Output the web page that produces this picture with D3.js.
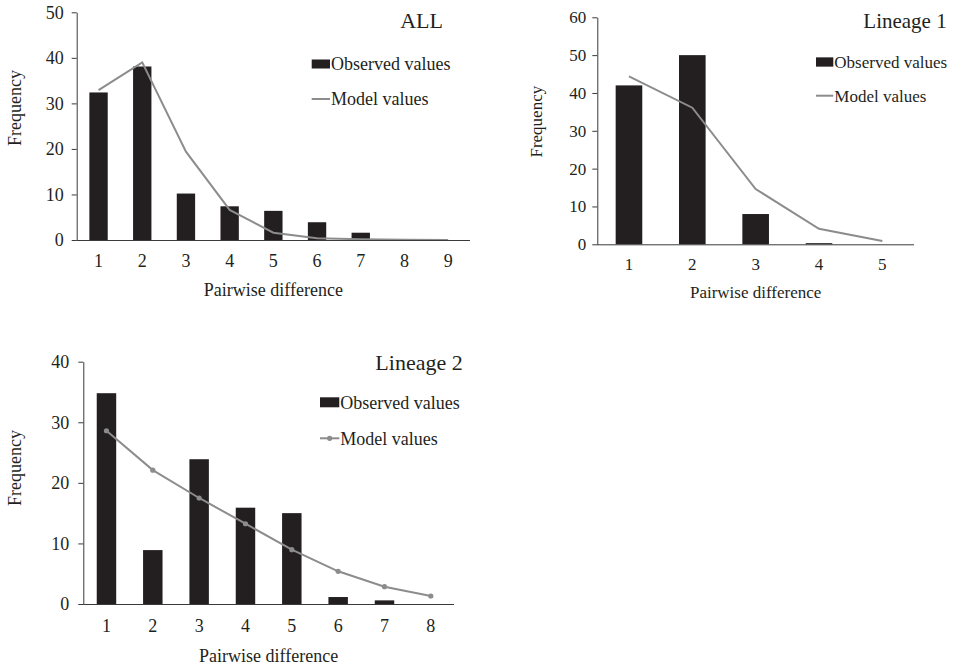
<!DOCTYPE html>
<html lang="en">
<head>
    <meta charset="UTF-8">
    <title>Mismatch distributions</title>
    <script src="https://d3js.org/d3.v7.min.js"></script>
    <style>
        body {
            margin: 0;
            padding: 0;
            background: #fff;
        }

        svg text {
            font-family: "Liberation Serif", "Times New Roman", serif;
            fill: #231f20;
        }

        .axis path, .axis line {
            stroke: #3a3a3a;
        }
    </style>
</head>
<body>
    <svg width="958" height="667"></svg>

    <script>
        // ALL
        const allCats = [1, 2, 3, 4, 5, 6, 7, 8, 9];
        const allObserved = [32.4, 38.1, 10.2, 7.4, 6.4, 3.9, 1.6, 0.2, 0];
        const allModel = [32.9, 39.0, 19.4, 6.6, 1.6, 0.4, 0.15, 0.05, 0.02];
        const allTicks = [0, 10, 20, 30, 40, 50];

        // Lineage 1
        const lin1Cats = [1, 2, 3, 4, 5];
        const lin1Observed = [42.0, 50.0, 8.0, 0.3, 0];
        const lin1Model = [44.4, 36.1, 14.6, 4.1, 0.9];
        const lin1Ticks = [0, 10, 20, 30, 40, 50, 60];

        // Lineage 2
        const lin2Cats = [1, 2, 3, 4, 5, 6, 7, 8];
        const lin2Observed = [34.8, 8.9, 23.9, 15.9, 15.0, 1.15, 0.6, 0];
        const lin2Model = [28.6, 22.1, 17.5, 13.25, 8.96, 5.4, 2.86, 1.32];
        const lin2Ticks = [0, 10, 20, 30, 40];

        const barColor = "#231f20";
        const lineColor = "#8c8c8c";

        const svg = d3.select("svg");

        function drawPanel(p) {
            const g = svg.append("g");

            const x = d3.scaleBand()
                .domain(p.cats)
                .range([p.left, p.right])
                .paddingInner(0.58)
                .paddingOuter(0.29);

            const y = d3.scaleLinear()
                .domain([0, d3.max(p.ticks)])
                .range([p.bottom, p.top]);

            // bars
            g.selectAll("rect.bar")
                .data(p.observed)
                .enter()
                .append("rect")
                .attr("class", "bar")
                .attr("x", (d, i) => x(p.cats[i]))
                .attr("y", d => y(d))
                .attr("width", x.bandwidth())
                .attr("height", d => y(0) - y(d))
                .attr("fill", barColor);

            // model line
            const line = d3.line()
                .x((d, i) => x(p.cats[i]) + x.bandwidth() / 2)
                .y(d => y(d));

            g.append("path")
                .datum(p.model)
                .attr("fill", "none")
                .attr("stroke", lineColor)
                .attr("stroke-width", 2)
                .attr("d", line);

            if (p.markers) {
                g.selectAll("circle.pt")
                    .data(p.model)
                    .enter()
                    .append("circle")
                    .attr("class", "pt")
                    .attr("cx", (d, i) => x(p.cats[i]) + x.bandwidth() / 2)
                    .attr("cy", d => y(d))
                    .attr("r", 2.6)
                    .attr("fill", lineColor);
            }

            // axes
            const yAxis = g.append("g")
                .attr("class", "axis")
                .attr("transform", `translate(${p.left},0)`)
                .call(d3.axisLeft(y).tickValues(p.ticks).tickSize(5).tickSizeOuter(0).tickPadding(p.yPad));
            yAxis.selectAll("text").style("font-size", p.tickFont + "px");
            yAxis.selectAll(".tick line").attr("stroke", "#777");

            const xAxis = g.append("g")
                .attr("class", "axis")
                .attr("transform", `translate(0,${p.bottom})`)
                .call(d3.axisBottom(x).tickSize(0).tickSizeOuter(0).tickPadding(p.xPad));
            xAxis.selectAll("text").style("font-size", p.tickFont + "px");
            xAxis.select(".domain").attr("d", `M${p.left},0.5H${p.right}`);

            // axis titles
            g.append("text")
                .attr("x", (p.left + p.right) / 2)
                .attr("y", p.xTitleY)
                .attr("text-anchor", "middle")
                .style("font-size", p.labelFont + "px")
                .text("Pairwise difference");

            g.append("text")
                .attr("transform", `translate(${p.yTitleX},${p.yTitleY}) rotate(-90)`)
                .attr("text-anchor", "middle")
                .style("font-size", p.labelFont + "px")
                .text("Frequency");

            // panel title
            g.append("text")
                .attr("x", p.titleX)
                .attr("y", p.titleY)
                .attr("text-anchor", "end")
                .style("font-size", p.titleFont + "px")
                .text(p.title);

            // legend
            const lg = g.append("g").attr("transform", `translate(${p.legX},${p.legY})`);
            lg.append("rect")
                .attr("x", 0)
                .attr("y", -p.keyH / 2)
                .attr("width", p.keyW)
                .attr("height", p.keyH)
                .attr("fill", barColor);
            lg.append("text")
                .attr("x", p.keyW + 1)
                .attr("y", 0)
                .attr("dy", "0.35em")
                .style("font-size", p.labelFont + "px")
                .text("Observed values");
            lg.append("line")
                .attr("x1", 0)
                .attr("x2", p.keyW)
                .attr("y1", p.legGap)
                .attr("y2", p.legGap)
                .attr("stroke", lineColor)
                .attr("stroke-width", 2);
            if (p.markers) {
                lg.append("circle")
                    .attr("cx", p.keyW / 2)
                    .attr("cy", p.legGap)
                    .attr("r", 2.6)
                    .attr("fill", lineColor);
            }
            lg.append("text")
                .attr("x", p.keyW + 1)
                .attr("y", p.legGap)
                .attr("dy", "0.35em")
                .style("font-size", p.labelFont + "px")
                .text("Model values");
        }

        drawPanel({
            title: "ALL", cats: allCats, observed: allObserved, model: allModel, ticks: allTicks,
            left: 76.7, right: 470, top: 12.3, bottom: 240,
            yPad: 8, xPad: 14, tickFont: 18, labelFont: 18, titleFont: 22,
            xTitleY: 296, yTitleX: 21, yTitleY: 108,
            titleX: 443, titleY: 28,
            legX: 311.7, legY: 64, legGap: 35, keyW: 18.3, keyH: 9,
            markers: false
        });

        drawPanel({
            title: "Lineage 1", cats: lin1Cats, observed: lin1Observed, model: lin1Model, ticks: lin1Ticks,
            left: 597.3, right: 914, top: 17.3, bottom: 244.3,
            yPad: 6, xPad: 14, tickFont: 17, labelFont: 17, titleFont: 21,
            xTitleY: 298, yTitleX: 542, yTitleY: 121.7,
            titleX: 946.7, titleY: 27.7,
            legX: 816, legY: 62, legGap: 33.7, keyW: 17.3, keyH: 9.3,
            markers: false
        });

        drawPanel({
            title: "Lineage 2", cats: lin2Cats, observed: lin2Observed, model: lin2Model, ticks: lin2Ticks,
            left: 83.3, right: 454, top: 361.7, bottom: 604,
            yPad: 9, xPad: 15, tickFont: 18, labelFont: 18, titleFont: 22,
            xTitleY: 661.7, yTitleX: 21, yTitleY: 468,
            titleX: 462.7, titleY: 370,
            legX: 320, legY: 402.3, legGap: 36, keyW: 19.3, keyH: 10,
            markers: true
        });
    </script>
</body>
</html>
